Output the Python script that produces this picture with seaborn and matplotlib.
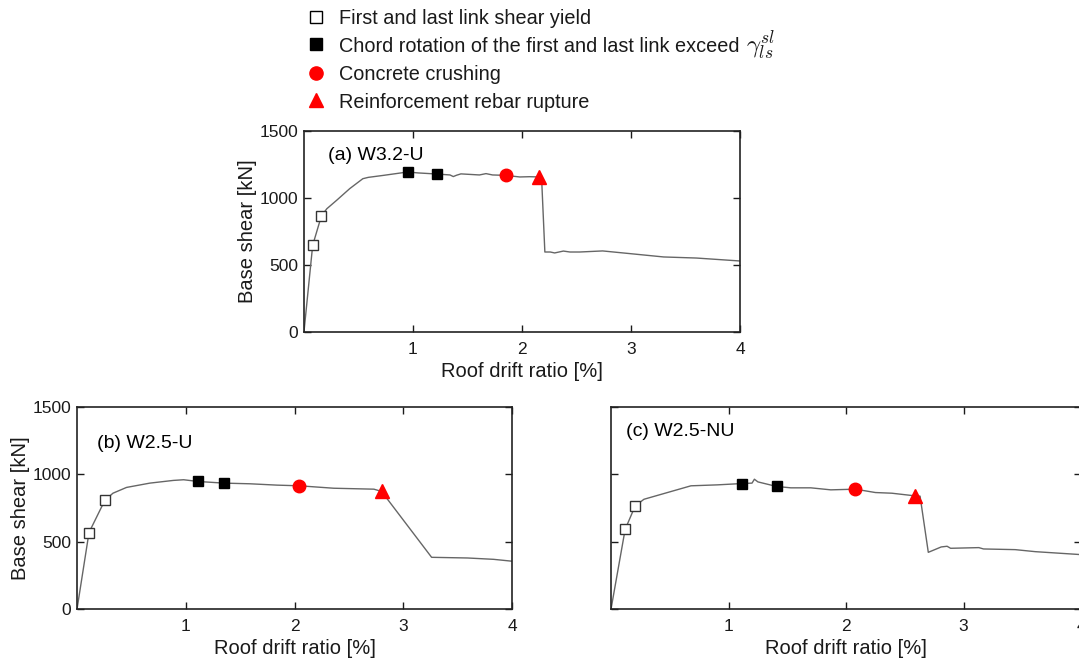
import numpy as np
import pandas as pd
import matplotlib.pyplot as plt
from matplotlib.lines import Line2D
import seaborn as sns

sns.set_theme(style='ticks')
plt.rcParams['font.family'] = ['Liberation Sans', 'DejaVu Sans']
plt.rcParams['mathtext.fontset'] = 'cm'

# ============================================
# data
# ============================================

# (a) W3.2-U
a_drift = [0.0, 0.08, 0.16, 0.21, 0.30, 0.42, 0.54, 0.59, 0.73, 0.95, 1.05, 1.22, 1.34, 1.37,
           1.40, 1.44, 1.61, 1.67, 1.73, 1.85, 1.98, 2.07, 2.16, 2.18, 2.21, 2.26, 2.30, 2.38,
           2.44, 2.53, 2.74, 2.99, 3.30, 3.60, 4.0]
a_shear = [0, 647, 866, 920, 983, 1070, 1144, 1154, 1169, 1194, 1187, 1179, 1172, 1160,
           1170, 1180, 1172, 1182, 1172, 1169, 1157, 1159, 1157, 1150, 597, 597, 590, 604,
           597, 597, 605, 585, 560, 552, 530]
a_yield = ([0.08, 0.16], [647, 866])
a_chord = ([0.95, 1.22], [1194, 1179])
a_crush = ([1.85], [1169])
a_rupture = ([2.16], [1157])

# (b) W2.5-U
b_drift = [0.0, 0.11, 0.255, 0.33, 0.455, 0.67, 0.885, 0.98, 1.115, 1.35, 1.59, 1.84, 2.045,
           2.36, 2.73, 2.80, 3.26, 3.59, 3.83, 4.0]
b_shear = [0, 568, 806, 860, 903, 935, 955, 960, 947, 935, 930, 920, 915,
           897, 890, 873, 384, 379, 369, 355]
b_yield = ([0.11, 0.255], [568, 806])
b_chord = ([1.115, 1.35], [947, 935])
b_crush = ([2.045], [915])
b_rupture = ([2.80], [873])

# (c) W2.5-NU
c_drift = [0.0, 0.12, 0.205, 0.28, 0.68, 0.905, 1.117, 1.20, 1.22, 1.25, 1.41, 1.53, 1.70,
           1.87, 2.08, 2.25, 2.39, 2.59, 2.63, 2.70, 2.81, 2.86, 2.89, 3.13, 3.17, 3.44,
           3.61, 4.0]
c_shear = [0, 591, 765, 815, 915, 922, 932, 935, 964, 944, 910, 900, 900,
           885, 890, 865, 860, 840, 838, 421, 461, 466, 451, 456, 446, 441,
           426, 404]
c_yield = ([0.12, 0.205], [591, 765])
c_chord = ([1.117, 1.41], [932, 910])
c_crush = ([2.08], [890])
c_rupture = ([2.59], [840])

panel_titles = ['(a) W3.2-U', '(b) W2.5-U', '(c) W2.5-NU']
legend_labels = ['First and last link shear yield',
                 'Chord rotation of the first and last link exceed',
                 'Concrete crushing',
                 'Reinforcement rebar rupture']
gamma_label = r'$\gamma_{ls}^{sl}$'

# ============================================
# figure
# ============================================

W, H = 1079, 664
fig = plt.figure(figsize=(W / 100, H / 100), dpi=100)
ax_a = fig.add_axes([0.2817, 0.500, 0.4041, 0.3027])
ax_b = fig.add_axes([0.0714, 0.0828, 0.4032, 0.3042])
ax_c = fig.add_axes([0.5663, 0.0828, 0.4356, 0.3042])

panels = [
    (ax_a, a_drift, a_shear, a_yield, a_chord, a_crush, a_rupture, (0.055, 0.88)),
    (ax_b, b_drift, b_shear, b_yield, b_chord, b_crush, b_rupture, (0.046, 0.82)),
    (ax_c, c_drift, c_shear, c_yield, c_chord, c_crush, c_rupture, (0.032, 0.88)),
]

curve_color = '#666666'
text_color = '#1a1a1a'

for i, (ax, xd, yd, yl, ch, cr, ru, tpos) in enumerate(panels):
    df = pd.DataFrame({'drift': xd, 'shear': yd})
    sns.lineplot(data=df, x='drift', y='shear', ax=ax, color=curve_color, lw=1.0,
                 sort=False, estimator=None)
    ax.plot(yl[0], yl[1], 's', ms=7.5, mfc='white', mec='#333333', mew=1.0, ls='none')
    ax.plot(ch[0], ch[1], 's', ms=7.5, mfc='black', mec='black', ls='none')
    ax.plot(cr[0], cr[1], 'o', ms=9, mfc='red', mec='red', ls='none')
    ax.plot(ru[0], ru[1], '^', ms=10, mfc='red', mec='red', ls='none')

    ax.set_xlim(0, 4)
    ax.set_ylim(0, 1500)
    ax.set_xticks([1, 2, 3, 4])
    ax.set_yticks([0, 500, 1000, 1500])
    ax.tick_params(direction='in', top=True, right=True, length=5, width=1.0,
                   labelsize=12.5, colors=text_color)
    ax.tick_params(axis='x', pad=7)
    ax.tick_params(axis='y', pad=4)
    for sp in ax.spines.values():
        sp.set_visible(True)
        sp.set_linewidth(1.2)
        sp.set_color('#222222')
    ax.set_xlabel('Roof drift ratio [%]', fontsize=14.5, color=text_color, labelpad=4)
    if i < 2:
        ax.set_ylabel('Base shear [kN]', fontsize=14.5, color=text_color, labelpad=2)
    else:
        ax.set_ylabel('')
        ax.set_yticklabels([])
    ax.text(tpos[0], tpos[1], panel_titles[i], transform=ax.transAxes,
            fontsize=14, va='center', ha='left', color='black')

# ============================================
# legend above the top panel (placed row by row)
# ============================================

row_y = [17, 44, 73, 100]
marker_kw = [
    dict(marker='s', ms=8, mfc='white', mec='black', mew=1.0),
    dict(marker='s', ms=8, mfc='black', mec='black'),
    dict(marker='o', ms=9.5, mfc='red', mec='red'),
    dict(marker='^', ms=10.5, mfc='red', mec='red'),
]
for yy, kw, lab in zip(row_y, marker_kw, legend_labels):
    fy = 1 - yy / H
    fig.add_artist(Line2D([316 / W], [fy], ls='none', transform=fig.transFigure, **kw))
    t = fig.text(339 / W, fy, lab, fontsize=14.3, va='center_baseline', ha='left',
                 color=text_color)

# gamma symbol after the second row, a bit larger like the source
fig.text(746 / W, 1 - 46 / H, gamma_label, fontsize=18, va='center', ha='left',
         color=text_color)

fig.savefig('out.png', dpi=100)
